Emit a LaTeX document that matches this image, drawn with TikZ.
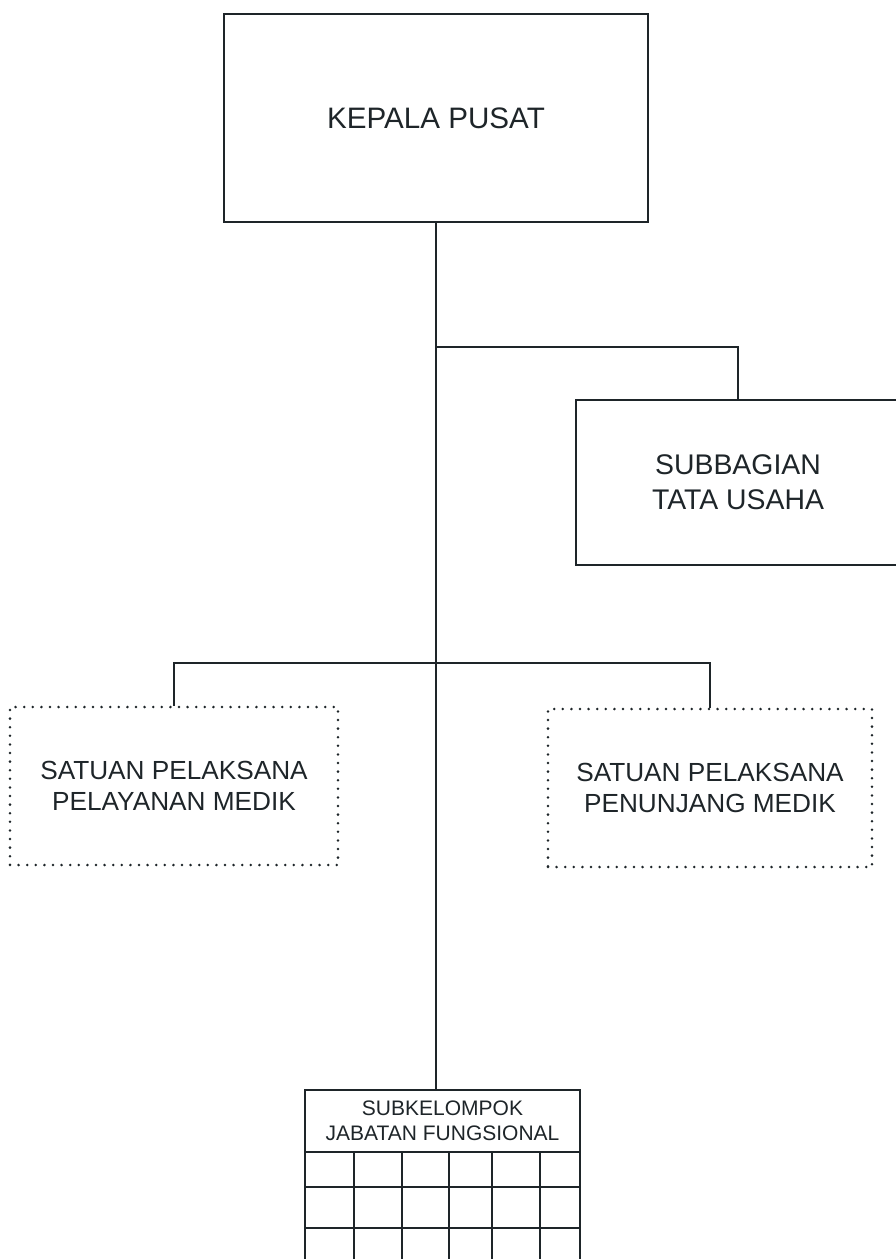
\documentclass[tikz,border=0pt]{standalone}
\usepackage{fontspec}
\setmainfont{Liberation Sans}
\usetikzlibrary{calc}

\definecolor{ink}{HTML}{1E2529}

\begin{document}
\begin{tikzpicture}[x=0.5pt,y=-0.5pt,
    box/.style={draw=ink,line width=0.7pt,inner sep=0pt,align=center,text=ink},
    dotbox/.style={draw=ink,line width=1.4pt,dash pattern=on 0pt off 4.3pt,
      line cap=round,inner sep=0pt,align=center,text=ink},
    link/.style={draw=ink,line width=0.7pt}]
    \useasboundingbox (0,0) rectangle (895,1259);
    \node[box,minimum width=212pt,minimum height=104pt,
      font=\fontsize{14.8}{17}\selectfont] (kepala) at (436,118) {KEPALA PUSAT};
    \node[box,minimum width=162pt,minimum height=82.5pt,
      font=\fontsize{14.2}{17.5}\selectfont] (tu) at (738,482.5) {SUBBAGIAN\\TATA USAHA};
    \node[dotbox,minimum width=164pt,minimum height=79pt,
      font=\fontsize{13.1}{15.5}\selectfont] (yanmed) at (174,786) {SATUAN PELAKSANA\\PELAYANAN MEDIK};
    \node[dotbox,minimum width=162pt,minimum height=79pt,
      font=\fontsize{13.1}{15.5}\selectfont] (jangmed) at (710,788) {SATUAN PELAKSANA\\PENUNJANG MEDIK};
    \node[box,minimum width=137.5pt,minimum height=31pt,
      font=\fontsize{10.5}{12.5}\selectfont] (jabfung) at (442.5,1121) {SUBKELOMPOK\\JABATAN FUNGSIONAL};
    \coordinate (tusplit) at (436,347);
    \coordinate (satbar) at (436,663);
    \draw[link] (kepala.south) -- (kepala.south |- jabfung.north);
    \draw[link] (tusplit) -| (tu.north);
    \draw[link] (yanmed.north) |- (satbar) -| (jangmed.north);
    % grid under the jabatan fungsional box
    \draw[link] (305,1152) -- (305,1262) (354,1152) -- (354,1262)
      (402,1152) -- (402,1262) (449,1152) -- (449,1262)
      (492,1152) -- (492,1262) (540,1152) -- (540,1262)
      (580,1152) -- (580,1262)
      (305,1187) -- (580,1187) (305,1228) -- (580,1228);
\end{tikzpicture}
\end{document}
